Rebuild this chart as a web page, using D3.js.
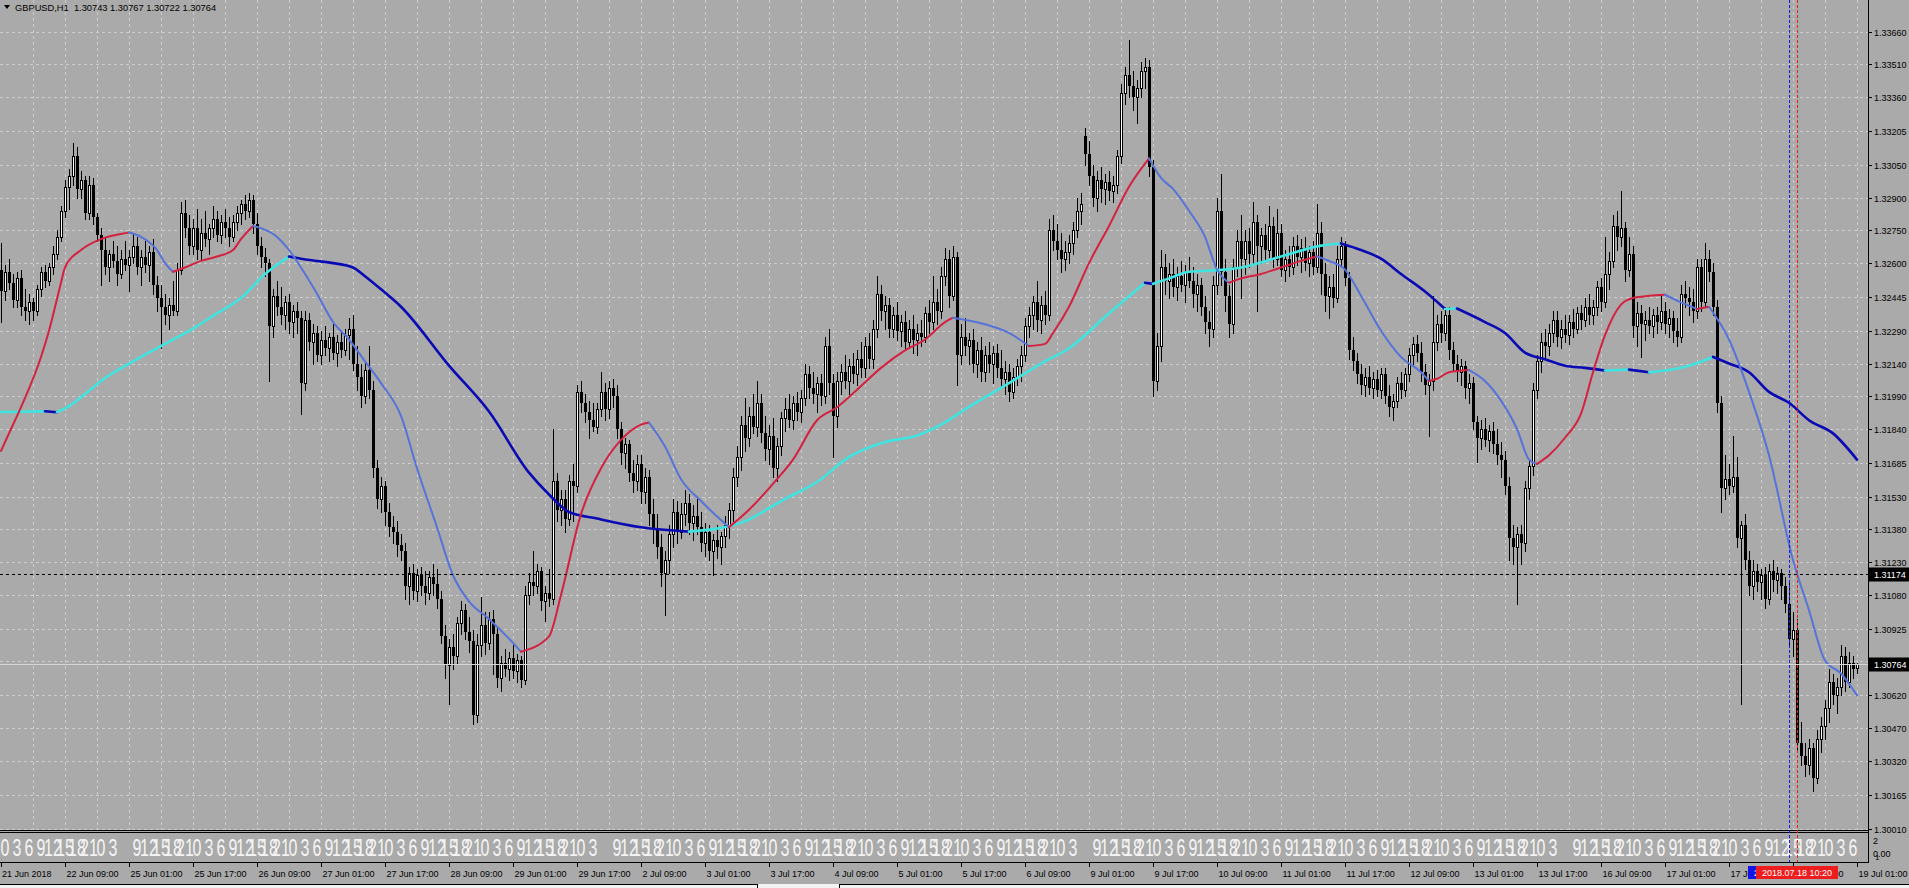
<!DOCTYPE html>
<html><head><meta charset="utf-8">
<script src="https://cdn.jsdelivr.net/npm/d3@7"></script>
<style>
html,body{margin:0;padding:0;background:#aaaaaa;overflow:hidden}
svg{display:block}
text{font-family:"Liberation Sans",Arial,sans-serif}
</style></head><body>
<svg id="c" width="1909" height="888"></svg>
<script>
// ---------------- DATA ----------------
const symbolLabel = "GBPUSD,H1";
const lastBar = ["1.30743","1.30767","1.30722","1.30764"];

const open = [
1.3257,1.3247,1.3256,1.3251,1.3243,1.3253,1.3240,1.3238,1.3242,1.3238,
1.3248,1.3256,1.3252,1.3258,1.3264,1.3272,1.3284,1.3295,1.3300,1.3309,
1.3294,1.3298,1.3283,1.3296,1.3281,1.3273,1.3266,1.3258,1.3264,1.3261,
1.3255,1.3262,1.3259,1.3263,1.3268,1.3258,1.3263,1.3259,1.3265,1.3250,
1.3244,1.3240,1.3236,1.3241,1.3238,1.3257,1.3283,1.3276,1.3268,1.3276,
1.3266,1.3274,1.3271,1.3276,1.3280,1.3273,1.3279,1.3276,1.3272,1.3279,
1.3283,1.3287,1.3284,1.3289,1.3278,1.3268,1.3263,1.3260,1.3231,1.3245,
1.3240,1.3236,1.3242,1.3233,1.3238,1.3235,1.3205,1.3234,1.3224,1.3228,
1.3218,1.3225,1.3221,1.3226,1.3219,1.3224,1.3220,1.3227,1.3230,1.3214,
1.3208,1.3199,1.3211,1.3202,1.3166,1.3152,1.3158,1.3146,1.3139,1.3137,
1.3131,1.3128,1.3112,1.3118,1.3110,1.3117,1.3112,1.3109,1.3116,1.3113,
1.3106,1.3089,1.3076,1.3084,1.3080,1.3095,1.3101,1.3091,1.3087,1.3053,
1.3085,1.3094,1.3086,1.3097,1.3090,1.3070,1.3077,1.3074,1.3079,1.3073,
1.3078,1.3069,1.3108,1.3114,1.3112,1.3119,1.3105,1.3109,1.3106,1.3160,
1.3147,1.3152,1.3143,1.3160,1.3158,1.3201,1.3196,1.3192,1.3188,1.3185,
1.3193,1.3201,1.3193,1.3203,1.3199,1.3184,1.3173,1.3177,1.3164,1.3160,
1.3168,1.3155,1.3162,1.3145,1.3138,1.3130,1.3118,1.3124,1.3136,1.3146,
1.3137,1.3145,1.3150,1.3141,1.3144,1.3139,1.3132,1.3137,1.3128,1.3133,
1.3130,1.3135,1.3140,1.3147,1.3162,1.3171,1.3186,1.3180,1.3190,1.3185,
1.3196,1.3182,1.3175,1.3181,1.3166,1.3176,1.3189,1.3193,1.3188,1.3196,
1.3192,1.3198,1.3209,1.3203,1.3200,1.3205,1.3199,1.3222,1.3205,1.3190,
1.3206,1.3210,1.3206,1.3213,1.3209,1.3216,1.3212,1.3222,1.3216,1.3230,
1.3246,1.3238,1.3241,1.3230,1.3236,1.3229,1.3233,1.3224,1.3230,1.3225,
1.3228,1.3226,1.3237,1.3233,1.3242,1.3238,1.3254,1.3262,1.3245,1.3263,
1.3218,1.3226,1.3222,1.3225,1.3214,1.3220,1.3210,1.3218,1.3214,1.3219,
1.3212,1.3207,1.3210,1.3201,1.3208,1.3213,1.3218,1.3231,1.3236,1.3242,
1.3234,1.3241,1.3236,1.3275,1.3270,1.3266,1.3262,1.3265,1.3269,1.3275,
1.3284,1.3318,1.3310,1.3300,1.3290,1.3298,1.3294,1.3297,1.3293,1.3296,
1.3309,1.3338,1.3346,1.3341,1.3336,1.3340,1.3348,1.3350,1.3304,1.3206,
1.3222,1.3258,1.3252,1.3255,1.3249,1.3254,1.3250,1.3256,1.3252,1.3246,
1.3250,1.3240,1.3233,1.3230,1.3250,1.3284,1.3256,1.3245,1.3232,1.3258,
1.3270,1.3262,1.3270,1.3264,1.3279,1.3268,1.3273,1.3266,1.3277,1.3262,
1.3274,1.3257,1.3262,1.3258,1.3268,1.3263,1.3267,1.3260,1.3265,1.3258,
1.3274,1.3255,1.3245,1.3249,1.3244,1.3262,1.3268,1.3253,1.3220,1.3215,
1.3209,1.3204,1.3208,1.3203,1.3207,1.3202,1.3209,1.3199,1.3194,1.3197,
1.3205,1.3202,1.3209,1.3218,1.3223,1.3219,1.3210,1.3204,1.3206,1.3224,
1.3232,1.3228,1.3236,1.3220,1.3214,1.3210,1.3213,1.3203,1.3205,1.3187,
1.3180,1.3184,1.3179,1.3183,1.3177,1.3172,1.3170,1.3158,1.3134,1.3130,
1.3136,1.3132,1.3157,1.3167,1.3202,1.3215,1.3224,1.3222,1.3228,1.3234,
1.3226,1.3230,1.3227,1.3233,1.3230,1.3237,1.3234,1.3240,1.3236,1.3240,
1.3249,1.3242,1.3255,1.3261,1.3277,1.3272,1.3276,1.3257,1.3264,1.3231,
1.3237,1.3232,1.3234,1.3231,1.3236,1.3233,1.3238,1.3232,1.3235,1.3229,
1.3226,1.3246,1.3244,1.3242,1.3238,1.3258,1.3242,1.3262,1.3256,1.3240,
1.3196,1.3157,1.3161,1.3158,1.3162,1.3134,1.3140,1.3124,1.3112,1.3119,
1.3114,1.3117,1.3106,1.3119,1.3115,1.3118,1.3112,1.3104,1.3088,1.3092,
1.3040,1.3034,1.3030,1.3038,1.3024,1.3042,1.3048,1.3056,1.3068,1.3062,
1.3066,1.3080,1.3068,1.3077,1.30743];

const high = [
1.3269,1.3259,1.3262,1.3255,1.3256,1.3257,1.3248,1.3246,1.3244,1.3250,
1.3258,1.3259,1.3260,1.3268,1.3275,1.3286,1.3298,1.3303,1.3315,1.3313,
1.3302,1.3300,1.3300,1.3299,1.3283,1.3276,1.3272,1.3266,1.3270,1.3268,
1.3266,1.3270,1.3266,1.3274,1.3272,1.3266,1.3270,1.3268,1.3271,1.3254,
1.3250,1.3246,1.3244,1.3252,1.3260,1.3288,1.3289,1.3282,1.3280,1.3285,
1.3280,1.3284,1.3278,1.3286,1.3284,1.3282,1.3285,1.3281,1.3282,1.3286,
1.3289,1.3291,1.3292,1.3291,1.3283,1.3272,1.3267,1.3262,1.3248,1.3252,
1.3249,1.3245,1.3246,1.3241,1.3242,1.3238,1.3238,1.3237,1.3232,1.3231,
1.3229,1.3231,1.3228,1.3232,1.3227,1.3229,1.3230,1.3235,1.3236,1.3222,
1.3214,1.3215,1.3222,1.3206,1.3170,1.3162,1.3160,1.3150,1.3144,1.3142,
1.3136,1.3132,1.3121,1.3122,1.3120,1.3121,1.3119,1.3119,1.3122,1.3120,
1.3110,1.3094,1.3088,1.3090,1.3098,1.3105,1.3104,1.3098,1.3092,1.3090,
1.3107,1.3100,1.3100,1.3101,1.3093,1.3080,1.3083,1.3082,1.3085,1.3081,
1.3080,1.3112,1.3118,1.3128,1.3122,1.3121,1.3112,1.3120,1.3184,1.3164,
1.3156,1.3156,1.3163,1.3168,1.3204,1.3206,1.3200,1.3197,1.3196,1.3196,
1.3210,1.3205,1.3206,1.3207,1.3204,1.3187,1.3180,1.3179,1.3170,1.3172,
1.3172,1.3166,1.3165,1.3152,1.3145,1.3136,1.3128,1.3140,1.3152,1.3151,
1.3150,1.3156,1.3154,1.3149,1.3152,1.3146,1.3141,1.3140,1.3136,1.3140,
1.3137,1.3144,1.3150,1.3166,1.3176,1.3190,1.3198,1.3194,1.3200,1.3206,
1.3200,1.3190,1.3186,1.3189,1.3180,1.3192,1.3198,1.3200,1.3199,1.3201,
1.3202,1.3214,1.3213,1.3210,1.3208,1.3209,1.3226,1.3230,1.3209,1.3210,
1.3214,1.3218,1.3216,1.3219,1.3220,1.3224,1.3226,1.3228,1.3234,1.3254,
1.3250,1.3245,1.3244,1.3240,1.3242,1.3236,1.3238,1.3234,1.3236,1.3232,
1.3234,1.3240,1.3243,1.3254,1.3248,1.3258,1.3267,1.3266,1.3268,1.3265,
1.3232,1.3235,1.3228,1.3230,1.3224,1.3226,1.3222,1.3224,1.3222,1.3223,
1.3220,1.3215,1.3214,1.3212,1.3216,1.3222,1.3235,1.3240,1.3245,1.3252,
1.3245,1.3247,1.3280,1.3282,1.3278,1.3274,1.3270,1.3273,1.3279,1.3290,
1.3292,1.3322,1.3316,1.3305,1.3302,1.3304,1.3301,1.3302,1.3300,1.3312,
1.3342,1.3350,1.3362,1.3348,1.3344,1.3352,1.3354,1.3353,1.3307,1.3228,
1.3266,1.3264,1.3260,1.3262,1.3258,1.3261,1.3259,1.3263,1.3258,1.3255,
1.3253,1.3245,1.3238,1.3254,1.3290,1.3301,1.3262,1.3250,1.3262,1.3275,
1.3282,1.3275,1.3276,1.3288,1.3282,1.3276,1.3278,1.3286,1.3281,1.3285,
1.3278,1.3266,1.3268,1.3272,1.3273,1.3271,1.3272,1.3268,1.3270,1.3287,
1.3279,1.3260,1.3254,1.3255,1.3268,1.3272,1.3270,1.3256,1.3226,1.3219,
1.3214,1.3212,1.3213,1.3210,1.3211,1.3212,1.3212,1.3204,1.3200,1.3208,
1.3210,1.3212,1.3221,1.3226,1.3227,1.3224,1.3214,1.3209,1.3245,1.3236,
1.3238,1.3240,1.3240,1.3224,1.3218,1.3216,1.3215,1.3209,1.3208,1.3190,
1.3188,1.3189,1.3186,1.3187,1.3184,1.3178,1.3174,1.3162,1.3140,1.3139,
1.3140,1.3160,1.3170,1.3205,1.3218,1.3228,1.3230,1.3232,1.3238,1.3238,
1.3234,1.3236,1.3236,1.3239,1.3240,1.3241,1.3244,1.3246,1.3243,1.3252,
1.3253,1.3272,1.3265,1.3282,1.3284,1.3293,1.3279,1.3272,1.3268,1.3242,
1.3241,1.3238,1.3240,1.3239,1.3240,1.3246,1.3242,1.3239,1.3238,1.3235,
1.3250,1.3252,1.3249,1.3248,1.3262,1.3262,1.3269,1.3266,1.3260,1.3243,
1.3199,1.3172,1.3168,1.3181,1.3171,1.3142,1.3145,1.3128,1.3124,1.3122,
1.3120,1.3121,1.3122,1.3124,1.3121,1.3120,1.3116,1.3114,1.3100,1.3097,
1.3050,1.3040,1.3042,1.3040,1.3046,1.3052,1.3060,1.3074,1.3072,1.3070,
1.3085,1.3084,1.3082,1.3080,1.30767];

const low = [
1.3233,1.3243,1.3248,1.3240,1.3240,1.3236,1.3234,1.3232,1.3234,1.3236,
1.3245,1.3249,1.3250,1.3255,1.3262,1.3270,1.3281,1.3285,1.3296,1.3290,
1.3290,1.3280,1.3280,1.3278,1.3270,1.3250,1.3255,1.3252,1.3258,1.3250,
1.3253,1.3257,1.3247,1.3260,1.3255,1.3250,1.3256,1.3252,1.3246,1.3238,
1.3221,1.3232,1.3230,1.3236,1.3236,1.3255,1.3272,1.3264,1.3264,1.3262,
1.3262,1.3268,1.3264,1.3272,1.3270,1.3269,1.3272,1.3268,1.3270,1.3275,
1.3278,1.3280,1.3281,1.3274,1.3264,1.3258,1.3254,1.3206,1.3226,1.3236,
1.3232,1.3230,1.3228,1.3226,1.3228,1.3191,1.3202,1.3220,1.3214,1.3215,
1.3214,1.3218,1.3215,1.3216,1.3213,1.3217,1.3218,1.3216,1.3211,1.3202,
1.3194,1.3196,1.3198,1.3162,1.3148,1.3146,1.3140,1.3135,1.3132,1.3126,
1.3124,1.3106,1.3104,1.3106,1.3105,1.3108,1.3104,1.3106,1.3108,1.3102,
1.3086,1.3070,1.3058,1.3074,1.3077,1.3090,1.3088,1.3082,1.3049,1.3050,
1.3080,1.3081,1.3083,1.3072,1.3066,1.3064,1.3071,1.3069,1.3070,1.3068,
1.3066,1.3067,1.3104,1.3108,1.3109,1.3101,1.3096,1.3103,1.3104,1.3142,
1.3140,1.3137,1.3140,1.3142,1.3155,1.3192,1.3187,1.3180,1.3183,1.3182,
1.3190,1.3188,1.3189,1.3194,1.3180,1.3168,1.3166,1.3160,1.3155,1.3156,
1.3150,1.3150,1.3140,1.3132,1.3125,1.3112,1.3099,1.3118,1.3130,1.3132,
1.3134,1.3140,1.3136,1.3133,1.3136,1.3128,1.3126,1.3124,1.3117,1.3125,
1.3122,1.3130,1.3134,1.3142,1.3158,1.3165,1.3174,1.3176,1.3182,1.3181,
1.3178,1.3170,1.3168,1.3162,1.3160,1.3172,1.3183,1.3185,1.3184,1.3188,
1.3187,1.3195,1.3198,1.3196,1.3192,1.3195,1.3196,1.3200,1.3171,1.3185,
1.3200,1.3203,1.3200,1.3205,1.3204,1.3208,1.3208,1.3212,1.3212,1.3226,
1.3234,1.3230,1.3226,1.3226,1.3225,1.3222,1.3220,1.3221,1.3219,1.3218,
1.3222,1.3224,1.3228,1.3230,1.3232,1.3235,1.3250,1.3240,1.3243,1.3204,
1.3214,1.3218,1.3214,1.3210,1.3208,1.3206,1.3206,1.3210,1.3205,1.3208,
1.3203,1.3200,1.3197,1.3198,1.3204,1.3206,1.3215,1.3226,1.3230,1.3229,
1.3228,1.3232,1.3234,1.3266,1.3262,1.3256,1.3257,1.3260,1.3264,1.3272,
1.3278,1.3305,1.3296,1.3286,1.3284,1.3288,1.3287,1.3289,1.3288,1.3292,
1.3306,1.3333,1.3336,1.3330,1.3324,1.3336,1.3340,1.3300,1.3199,1.3202,
1.3215,1.3246,1.3244,1.3245,1.3243,1.3247,1.3242,1.3249,1.3240,1.3238,
1.3236,1.3228,1.3222,1.3226,1.3246,1.3250,1.3238,1.3226,1.3228,1.3254,
1.3244,1.3255,1.3258,1.3260,1.3238,1.3260,1.3262,1.3263,1.3258,1.3259,
1.3254,1.3252,1.3254,1.3255,1.3259,1.3256,1.3257,1.3254,1.3255,1.3256,
1.3246,1.3238,1.3235,1.3240,1.3242,1.3258,1.3250,1.3216,1.3211,1.3205,
1.3200,1.3199,1.3200,1.3198,1.3199,1.3198,1.3196,1.3190,1.3188,1.3194,
1.3198,1.3199,1.3206,1.3214,1.3215,1.3206,1.3200,1.3181,1.3202,1.3220,
1.3224,1.3225,1.3216,1.3211,1.3206,1.3204,1.3198,1.3196,1.3184,1.3169,
1.3175,1.3176,1.3174,1.3173,1.3168,1.3162,1.3154,1.3124,1.3122,1.3104,
1.3122,1.3128,1.3152,1.3163,1.3198,1.3210,1.3216,1.3218,1.3224,1.3222,
1.3221,1.3224,1.3223,1.3226,1.3228,1.3230,1.3231,1.3232,1.3232,1.3236,
1.3238,1.3240,1.3248,1.3258,1.3266,1.3268,1.3252,1.3254,1.3226,1.3222,
1.3217,1.3225,1.3228,1.3226,1.3228,1.3230,1.3228,1.3226,1.3224,1.3222,
1.3224,1.3240,1.3236,1.3233,1.3235,1.3238,1.3240,1.3252,1.3236,1.3192,
1.3146,1.3152,1.3154,1.3155,1.3130,1.3058,1.3120,1.3108,1.3106,1.3110,
1.3106,1.3102,1.3104,1.3110,1.3109,1.3106,1.3100,1.3084,1.3080,1.3036,
1.3030,1.3025,1.3026,1.3018,1.3022,1.3036,1.3042,1.3050,1.3058,1.3054,
1.3062,1.3064,1.3066,1.3070,1.30722];

const close = [
1.3247,1.3256,1.3251,1.3243,1.3253,1.3240,1.3238,1.3242,1.3238,1.3248,
1.3256,1.3252,1.3258,1.3264,1.3272,1.3284,1.3295,1.3300,1.3309,1.3294,
1.3298,1.3283,1.3296,1.3281,1.3273,1.3266,1.3258,1.3264,1.3261,1.3255,
1.3262,1.3259,1.3263,1.3268,1.3258,1.3263,1.3259,1.3265,1.3250,1.3244,
1.3240,1.3236,1.3241,1.3238,1.3257,1.3283,1.3276,1.3268,1.3276,1.3266,
1.3274,1.3271,1.3276,1.3280,1.3273,1.3279,1.3276,1.3272,1.3279,1.3283,
1.3287,1.3284,1.3289,1.3278,1.3268,1.3263,1.3260,1.3231,1.3245,1.3240,
1.3236,1.3242,1.3233,1.3238,1.3235,1.3205,1.3234,1.3224,1.3228,1.3218,
1.3225,1.3221,1.3226,1.3219,1.3224,1.3220,1.3227,1.3230,1.3214,1.3208,
1.3199,1.3211,1.3202,1.3166,1.3152,1.3158,1.3146,1.3139,1.3137,1.3131,
1.3128,1.3112,1.3118,1.3110,1.3117,1.3112,1.3109,1.3116,1.3113,1.3106,
1.3089,1.3076,1.3084,1.3080,1.3095,1.3101,1.3091,1.3087,1.3053,1.3085,
1.3094,1.3086,1.3097,1.3090,1.3070,1.3077,1.3074,1.3079,1.3073,1.3078,
1.3069,1.3108,1.3114,1.3112,1.3119,1.3105,1.3109,1.3106,1.3160,1.3147,
1.3152,1.3143,1.3160,1.3158,1.3201,1.3196,1.3192,1.3188,1.3185,1.3193,
1.3201,1.3193,1.3203,1.3199,1.3184,1.3173,1.3177,1.3164,1.3160,1.3168,
1.3155,1.3162,1.3145,1.3138,1.3130,1.3118,1.3124,1.3136,1.3146,1.3137,
1.3145,1.3150,1.3141,1.3144,1.3139,1.3132,1.3137,1.3128,1.3133,1.3130,
1.3135,1.3140,1.3147,1.3162,1.3171,1.3186,1.3180,1.3190,1.3185,1.3196,
1.3182,1.3175,1.3181,1.3166,1.3176,1.3189,1.3193,1.3188,1.3196,1.3192,
1.3198,1.3209,1.3203,1.3200,1.3205,1.3199,1.3222,1.3205,1.3190,1.3206,
1.3210,1.3206,1.3213,1.3209,1.3216,1.3212,1.3222,1.3216,1.3230,1.3246,
1.3238,1.3241,1.3230,1.3236,1.3229,1.3233,1.3224,1.3230,1.3225,1.3228,
1.3226,1.3237,1.3233,1.3242,1.3238,1.3254,1.3262,1.3245,1.3263,1.3218,
1.3226,1.3222,1.3225,1.3214,1.3220,1.3210,1.3218,1.3214,1.3219,1.3212,
1.3207,1.3210,1.3201,1.3208,1.3213,1.3218,1.3231,1.3236,1.3242,1.3234,
1.3241,1.3236,1.3275,1.3270,1.3266,1.3262,1.3265,1.3269,1.3275,1.3284,
1.3287,1.3310,1.3300,1.3290,1.3298,1.3294,1.3297,1.3293,1.3296,1.3309,
1.3338,1.3346,1.3341,1.3336,1.3340,1.3348,1.3350,1.3304,1.3206,1.3222,
1.3258,1.3252,1.3255,1.3249,1.3254,1.3250,1.3256,1.3252,1.3246,1.3250,
1.3240,1.3233,1.3230,1.3250,1.3284,1.3256,1.3245,1.3232,1.3258,1.3270,
1.3262,1.3270,1.3264,1.3279,1.3268,1.3273,1.3266,1.3277,1.3262,1.3274,
1.3257,1.3262,1.3258,1.3268,1.3263,1.3267,1.3260,1.3265,1.3258,1.3274,
1.3255,1.3245,1.3249,1.3244,1.3262,1.3268,1.3253,1.3220,1.3215,1.3209,
1.3204,1.3208,1.3203,1.3207,1.3202,1.3209,1.3199,1.3194,1.3197,1.3205,
1.3202,1.3209,1.3218,1.3223,1.3219,1.3210,1.3204,1.3206,1.3224,1.3232,
1.3228,1.3236,1.3220,1.3214,1.3210,1.3213,1.3203,1.3205,1.3187,1.3180,
1.3184,1.3179,1.3183,1.3177,1.3172,1.3170,1.3158,1.3134,1.3130,1.3136,
1.3132,1.3157,1.3167,1.3202,1.3215,1.3224,1.3222,1.3228,1.3234,1.3226,
1.3230,1.3227,1.3233,1.3230,1.3237,1.3234,1.3240,1.3236,1.3240,1.3249,
1.3242,1.3255,1.3261,1.3277,1.3272,1.3276,1.3257,1.3264,1.3231,1.3237,
1.3232,1.3234,1.3231,1.3236,1.3233,1.3238,1.3232,1.3235,1.3229,1.3226,
1.3246,1.3244,1.3242,1.3238,1.3258,1.3242,1.3262,1.3256,1.3240,1.3196,
1.3157,1.3161,1.3158,1.3162,1.3134,1.3140,1.3124,1.3112,1.3119,1.3114,
1.3117,1.3106,1.3119,1.3115,1.3118,1.3112,1.3104,1.3088,1.3092,1.3040,
1.3034,1.3030,1.3038,1.3024,1.3042,1.3048,1.3056,1.3068,1.3062,1.3066,
1.3080,1.3068,1.3077,1.3074,1.30764];

// fast moving average (at these bars)
const fastBar = [0,2,5,10,12,15,16,20,25,29,32,35,39,41,43,46,50,54,58,60,63,65,69,72,75,79,83,87,91,95,100,104,109,113,117,122,127,130,137,140,145,150,155,160,162,166,170,175,182,187,194,198,204,209,214,220,226,231,236,238,241,246,252,257,261,263,267,272,277,282,287,290,293,297,301,304,307,310,315,320,325,329,332,336,340,345,350,355,357,359,362,367,371,375,379,382,384,387,391,395,398,401,405,408,412,416,420,424,427,432,437,442,448,452,456,460,464];
const fastVal = [1.3174,1.3182,1.3194,1.3217,1.3229,1.3251,1.3258,1.3266,1.3271,1.3273,1.3274,1.3272,1.3266,1.3260,1.3256,1.3258,1.3261,1.3263,1.3266,1.3271,1.3277,1.3276,1.3272,1.3266,1.3258,1.3246,1.3233,1.3225,1.3215,1.3205,1.3190,1.3166,1.3139,1.3117,1.3105,1.3097,1.3088,1.3082,1.3089,1.3108,1.3145,1.3166,1.3179,1.3186,1.3187,1.3176,1.3161,1.3151,1.3139,1.3147,1.3161,1.3170,1.3188,1.3194,1.3202,1.3212,1.3220,1.3225,1.3233,1.3235,1.3234,1.3232,1.3228,1.3222,1.3223,1.3228,1.3240,1.3260,1.3277,1.3295,1.3308,1.3299,1.3294,1.3284,1.3272,1.3257,1.3251,1.3253,1.3255,1.3258,1.3261,1.3263,1.3261,1.3257,1.3245,1.3229,1.3217,1.3210,1.3206,1.3207,1.3210,1.3211,1.3206,1.3197,1.3184,1.3170,1.3168,1.3172,1.3180,1.3191,1.3210,1.3227,1.3241,1.3244,1.3245,1.32455,1.3242,1.3239,1.3240,1.3225,1.3201,1.3172,1.3124,1.3101,1.3078,1.3072,1.3062];

// slow moving average
const slowBar = [0,11,14,17,21,25,33,41,48,54,60,66,72,75,79,83,88,91,95,100,112,122,132,137,142,149,160,172,185,195,205,211,221,229,236,241,252,260,267,277,286,288,292,297,306,310,320,330,335,340,345,350,356,361,364,371,376,381,386,391,396,401,407,412,417,422,428,432,437,442,447,452,458,464];
const slowVal = [1.31918,1.31921,1.31917,1.31945,1.3200,1.3206,1.3215,1.3223,1.3230,1.3237,1.3244,1.3255,1.3263,1.3262,1.3261,1.3260,1.3258,1.3254,1.3248,1.3240,1.3213,1.3192,1.3164,1.3154,1.3146,1.3143,1.3139,1.3137,1.3141,1.3151,1.3161,1.3170,1.3178,1.3181,1.3187,1.3193,1.3205,1.3214,1.3221,1.3237,1.3251,1.32505,1.3253,1.3256,1.3257,1.3258,1.3263,1.3268,1.3269,1.3266,1.3262,1.3255,1.3247,1.3239,1.32392,1.3233,1.3228,1.3219,1.3216,1.3213,1.3212,1.32108,1.32112,1.3210,1.3211,1.3213,1.3217,1.3214,1.3210,1.3201,1.3196,1.3188,1.3182,1.3170];

const priceTicks = ["1.33660","1.33510","1.33360","1.33205","1.33050","1.32900","1.32750","1.32600","1.32445","1.32290","1.32140","1.31990","1.31840","1.31685","1.31530","1.31380","1.31230","1.31080","1.30925","1.30775","1.30620","1.30470","1.30320","1.30165","1.30010"];
const timeLabels = ["21 Jun 2018","22 Jun 09:00","25 Jun 01:00","25 Jun 17:00","26 Jun 09:00","27 Jun 01:00","27 Jun 17:00","28 Jun 09:00","29 Jun 01:00","29 Jun 17:00","2 Jul 09:00","3 Jul 01:00","3 Jul 17:00","4 Jul 09:00","5 Jul 01:00","5 Jul 17:00","6 Jul 09:00","9 Jul 01:00","9 Jul 17:00","10 Jul 09:00","11 Jul 01:00","11 Jul 17:00","12 Jul 09:00","13 Jul 01:00","13 Jul 17:00","16 Jul 09:00","17 Jul 01:00","17 Jul 17:00","18 Jul 09:00","19 Jul 01:00"];
const hLinePrice = 1.31174;
const bidPrice = 1.30764;
const vLines = [
  {bar:447, color:"#1414e6", label:"2018.07.18 08:00"},
  {bar:449, color:"#ee1c1c", label:"2018.07.18 10:20"}
];

// ---------------- LAYOUT ----------------
const W = 1909, H = 888;
const plotR = 1868, mainB = 830, subT = 833, subB = 862;
const N = Math.min(open.length, high.length, low.length, close.length);

const x = d3.scaleLinear().domain([0, 464]).range([1, 1857]);
const y = d3.scaleLinear().domain([1.3001, 1.3366]).range([828.5, 31.7]);

const svg = d3.select("#c");
svg.append("rect").attr("width", W).attr("height", H).attr("fill", "#aaaaaa");

svg.append("defs").append("clipPath").attr("id", "mainClip")
  .append("rect").attr("x", 0).attr("y", 0).attr("width", plotR).attr("height", mainB);
svg.append("defs").append("clipPath").attr("id", "subClip")
  .append("rect").attr("x", 0).attr("y", subT).attr("width", plotR).attr("height", subB - subT);

const main = svg.append("g").attr("clip-path", "url(#mainClip)");

// grid
const grid = main.append("g").attr("stroke", "#cdcdcd").attr("stroke-width", 1)
  .attr("stroke-dasharray", "3,3").attr("shape-rendering", "crispEdges");
d3.range(8, N, 8).forEach(i => {
  const gx = Math.round(x(i)) + 0.5;
  grid.append("line").attr("x1", gx).attr("x2", gx).attr("y1", 0).attr("y2", mainB);
});
priceTicks.forEach(t => {
  const gy = Math.round(y(+t)) + 0.5;
  grid.append("line").attr("x1", 0).attr("x2", plotR).attr("y1", gy).attr("y2", gy);
});

// candles
const cg = main.append("g").attr("shape-rendering", "crispEdges");
for (let i = 0; i < N; i++) {
  const cx = Math.round(x(i));
  const o = open[i], c = close[i];
  cg.append("line").attr("x1", cx + 0.5).attr("x2", cx + 0.5)
    .attr("y1", Math.round(y(high[i]))).attr("y2", Math.round(y(low[i])) + 1)
    .attr("stroke", "#000");
  const top = Math.round(y(Math.max(o, c)));
  const bot = Math.round(y(Math.min(o, c)));
  if (c >= o) {
    cg.append("rect").attr("x", cx - 0.5).attr("y", top + 0.5)
      .attr("width", 2).attr("height", Math.max(bot - top, 1))
      .attr("fill", "#fff").attr("stroke", "#000");
  } else {
    cg.append("rect").attr("x", cx - 1).attr("y", top)
      .attr("width", 3).attr("height", Math.max(bot - top, 1)).attr("fill", "#000");
  }
}

// moving averages coloured by direction
function drawMA(bars, vals, upCol, downCol, w) {
  const pts = bars.map((b, k) => ({b, v: vals[k]}));
  const runs = [];
  let cur = [pts[0]], dir = null;
  for (let k = 1; k < pts.length; k++) {
    const d = pts[k].v >= pts[k - 1].v ? "up" : "down";
    if (dir === null || d === dir) { cur.push(pts[k]); dir = d; }
    else { runs.push({dir, pts: cur}); cur = [pts[k - 1], pts[k]]; dir = d; }
  }
  runs.push({dir, pts: cur});
  const line = d3.line().x(d => x(d.b)).y(d => y(d.v)).curve(d3.curveMonotoneX);
  runs.forEach(r => main.append("path").attr("d", line(r.pts)).attr("fill", "none")
    .attr("stroke", r.dir === "up" ? upCol : downCol).attr("stroke-width", w)
    .attr("stroke-linecap", "round").attr("stroke-linejoin", "round"));
}
drawMA(slowBar, slowVal, "#3fe3e0", "#0a0ab4", 2.6);
drawMA(fastBar, fastVal, "#d4213f", "#5573d8", 2);

// horizontal line object and bid line
main.append("line").attr("x1", 0).attr("x2", plotR)
  .attr("y1", Math.round(y(hLinePrice)) + 0.5).attr("y2", Math.round(y(hLinePrice)) + 0.5)
  .attr("stroke", "#000").attr("stroke-dasharray", "3,3").attr("shape-rendering", "crispEdges");
main.append("line").attr("x1", 0).attr("x2", plotR)
  .attr("y1", Math.round(y(bidPrice)) + 0.5).attr("y2", Math.round(y(bidPrice)) + 0.5)
  .attr("stroke", "#d6d6d6").attr("shape-rendering", "crispEdges");

// header
svg.append("path").attr("d", "M4,5 L10,5 L7,9 Z").attr("fill", "#000");
svg.append("text").attr("x", 15).attr("y", 11).attr("font-size", 9.3).attr("fill", "#000")
  .attr("xml:space", "preserve")
  .text(symbolLabel + "  " + lastBar.join(" "));

// frames
const fr = svg.append("g").attr("stroke", "#000").attr("shape-rendering", "crispEdges");
fr.append("line").attr("x1", plotR + 0.5).attr("x2", plotR + 0.5).attr("y1", 0).attr("y2", subB + 1);
fr.append("line").attr("x1", 0).attr("x2", plotR).attr("y1", mainB + 0.5).attr("y2", mainB + 0.5);
fr.append("line").attr("x1", 0).attr("x2", plotR).attr("y1", subT - 0.5).attr("y2", subT - 0.5);
fr.append("line").attr("x1", 0).attr("x2", plotR).attr("y1", subB + 0.5).attr("y2", subB + 0.5);

// price axis
const ax = svg.append("g");
priceTicks.forEach(t => {
  const ty = Math.round(y(+t)) + 0.5;
  ax.append("line").attr("x1", plotR).attr("x2", plotR + 4).attr("y1", ty).attr("y2", ty)
    .attr("stroke", "#000").attr("shape-rendering", "crispEdges");
  ax.append("text").attr("x", plotR + 6).attr("y", ty + 3.5).attr("font-size", 9)
    .attr("fill", "#000").text(t);
});
function priceBox(p) {
  const ty = Math.round(y(p)) + 0.5;
  ax.append("rect").attr("x", plotR + 1).attr("y", ty - 7).attr("width", W - plotR - 1)
    .attr("height", 14).attr("fill", "#000");
  ax.append("text").attr("x", plotR + 6).attr("y", ty + 3.5).attr("font-size", 9)
    .attr("fill", "#fff").text(p.toFixed(5));
}
priceBox(hLinePrice);
priceBox(bidPrice);

// sub window scale labels
ax.append("text").attr("x", plotR + 5).attr("y", 844).attr("font-size", 9).attr("fill", "#000").text("2");
ax.append("text").attr("x", plotR + 5).attr("y", 857).attr("font-size", 9).attr("fill", "#000").text("0.00");
ax.append("text").attr("x", plotR + 7).attr("y", 860).attr("font-size", 8).attr("fill", "#000").text("1");

// hour labels in sub window (bar times, broker hours shifted)
const times = [];
let t = Date.UTC(2018, 5, 21, 17);
for (let i = 0; i < N; i++) {
  times.push(t);
  t += 3600e3;
  while ([0, 6].includes(new Date(t).getUTCDay())) t += 3600e3;
}
const sub = svg.append("g").attr("clip-path", "url(#subClip)");
for (let i = 0; i < N; i++) {
  const hh = (new Date(times[i]).getUTCHours() + 6) % 24;
  const afterGap = i > 0 && times[i] - times[i - 1] > 3600e3;
  if (hh % 3 === 0 && !afterGap) {
    sub.append("text").attr("transform", `translate(${x(i)},856) scale(1,1.45)`)
      .attr("text-anchor", "middle")
      .attr("font-size", 16).attr("fill", "#f4f4f4").text(String(hh));
  }
}

// vertical line objects
vLines.forEach(v => {
  const vx = Math.round(x(v.bar)) + 0.5;
  svg.append("line").attr("x1", vx).attr("x2", vx).attr("y1", 0).attr("y2", subB)
    .attr("stroke", v.color).attr("stroke-dasharray", "3,2").attr("shape-rendering", "crispEdges");
});

// time axis
const tx = svg.append("g");
timeLabels.forEach((lab, k) => {
  const px = Math.round(x(16 * k)) + 0.5;
  tx.append("line").attr("x1", px).attr("x2", px).attr("y1", subB).attr("y2", subB + 5)
    .attr("stroke", "#000").attr("shape-rendering", "crispEdges");
  tx.append("text").attr("x", k === 0 ? 2 : px + 1).attr("y", 877).attr("font-size", 9)
    .attr("fill", "#000").text(lab);
});
vLines.forEach(v => {
  const vx = Math.round(x(v.bar));
  tx.append("rect").attr("x", vx - 41).attr("y", 866).attr("width", 82).attr("height", 13)
    .attr("fill", v.color);
  tx.append("text").attr("x", vx).attr("y", 876).attr("text-anchor", "middle")
    .attr("font-size", 9).attr("fill", "#fff").text(v.label);
});

// bottom tab strip
svg.append("rect").attr("x", 0).attr("y", 884).attr("width", W).attr("height", 4).attr("fill", "#f2f2f2");
svg.append("line").attr("x1", 0).attr("x2", 757).attr("y1", 884.5).attr("y2", 884.5).attr("stroke", "#000");
svg.append("line").attr("x1", 840).attr("x2", W).attr("y1", 884.5).attr("y2", 884.5).attr("stroke", "#000");
svg.append("line").attr("x1", 757.5).attr("x2", 757.5).attr("y1", 884).attr("y2", 888).attr("stroke", "#000");
svg.append("line").attr("x1", 839.5).attr("x2", 839.5).attr("y1", 884).attr("y2", 888).attr("stroke", "#000");
</script>
</body></html>
